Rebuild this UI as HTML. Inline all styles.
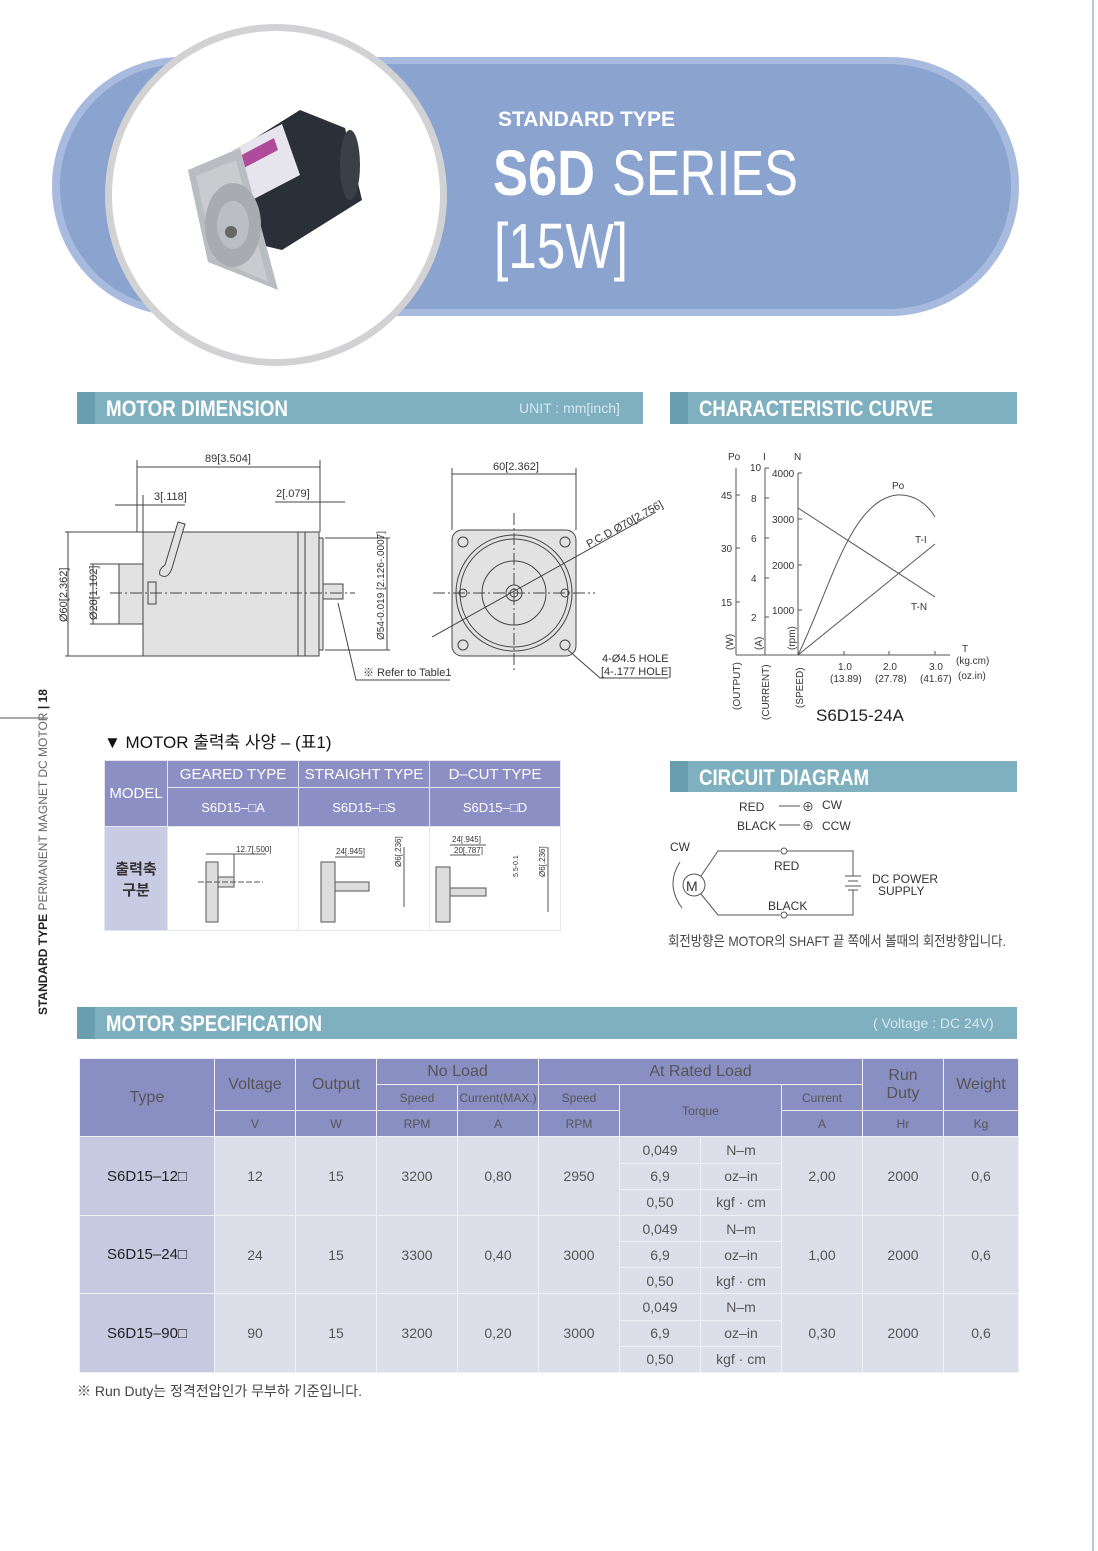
<!DOCTYPE html>
<html><head><meta charset="utf-8"><style>
body{margin:0;background:#fff;}
#p{position:relative;width:1098px;height:1551px;overflow:hidden;font-family:"Liberation Sans","Noto Sans CJK KR",sans-serif;}
svg{position:absolute;left:0;top:0}
table{position:absolute;border-collapse:collapse;font-family:"Liberation Sans","Noto Sans CJK KR",sans-serif;}
#spec td{border:1px solid #eef0f6;text-align:center;color:#555;font-size:14px;padding:0;height:25px}
#spec .h{background:#8a8fc3;color:#fff;}
#spec .hs{font-size:12px}
#spec .b{background:#dcdeea;}
#spec .t{background:#c6c9e0;color:#222;font-size:15px}
#t1 td{border:1px solid #e4e6f0;text-align:center;padding:0}
</style></head><body><div id="p">
<svg width="1098" height="1551" viewBox="0 0 1098 1551" font-family="Liberation Sans, Noto Sans CJK KR, sans-serif">
<line x1="1093" y1="0" x2="1093" y2="1551" stroke="#b8c6dc" stroke-width="2"/>
<rect x="52" y="57" width="967" height="259" rx="129" fill="#a8bbdf"/>
<rect x="60" y="64" width="951" height="245" rx="122" fill="#8aa3cf"/>
<circle cx="276" cy="195" r="171" fill="#d2d2d4"/>
<circle cx="276" cy="195" r="164" fill="#fff"/>
<!-- motor image -->
<g>
<polygon points="220,160 300,110 345,128 362,200 282,250 240,240" fill="#2a2f38"/>
<polygon points="232,150 282,124 300,175 252,200" fill="#e6e4ec"/>
<polygon points="236,158 274,138 278,150 240,170" fill="#b04a9a"/>
<ellipse cx="350" cy="165" rx="10" ry="35" fill="#3a3f48"/>
<polygon points="188,170 240,148 278,290 208,262" fill="#b9bcc0"/>
<polygon points="196,176 236,160 268,282 214,258" fill="#c9cbcf"/>
<ellipse cx="233" cy="225" rx="28" ry="42" fill="#a8abb0"/>
<ellipse cx="233" cy="225" rx="16" ry="24" fill="#bbbec2"/>
<circle cx="231" cy="232" r="6" fill="#666"/>
</g>
<text x="498" y="126" font-size="21" font-weight="bold" fill="#fff">STANDARD TYPE</text>
<text x="493" y="195" font-size="64" font-weight="bold" fill="#fff" textLength="102" lengthAdjust="spacingAndGlyphs">S6D</text>
<text x="612" y="195" font-size="64" fill="#fff" textLength="186" lengthAdjust="spacingAndGlyphs">SERIES</text>
<text x="494" y="268" font-size="64" fill="#fff" textLength="134" lengthAdjust="spacingAndGlyphs">[15W]</text>
<g font-size="22" fill="#fff" font-weight="bold">
<rect x="77" y="392" width="566" height="32" fill="#7fb0bf"/><rect x="77" y="392" width="18" height="32" fill="#6a9eae"/>
<text x="106" y="416" textLength="182" lengthAdjust="spacingAndGlyphs">MOTOR DIMENSION</text>
<text x="519" y="413" font-size="14" font-weight="normal" fill="#d6e8ee">UNIT : mm[inch]</text>
<rect x="670" y="392" width="347" height="32" fill="#7fb0bf"/><rect x="670" y="392" width="18" height="32" fill="#6a9eae"/>
<text x="699" y="416" textLength="234" lengthAdjust="spacingAndGlyphs">CHARACTERISTIC CURVE</text>
<rect x="670" y="761" width="347" height="31" fill="#7fb0bf"/><rect x="670" y="761" width="18" height="31" fill="#6a9eae"/>
<text x="699" y="785" textLength="170" lengthAdjust="spacingAndGlyphs">CIRCUIT DIAGRAM</text>
<rect x="77" y="1007" width="940" height="32" fill="#7fb0bf"/><rect x="77" y="1007" width="18" height="32" fill="#6a9eae"/>
<text x="106" y="1031" textLength="216" lengthAdjust="spacingAndGlyphs">MOTOR SPECIFICATION</text>
<text x="873" y="1028" font-size="14" font-weight="normal" fill="#d6e8ee">( Voltage : DC 24V)</text>
</g>
<line x1="0" y1="718" x2="48" y2="718" stroke="#555"/>
<g transform="translate(47,1015) rotate(-90)" font-size="12"><text x="0" y="0" font-weight="bold" fill="#222">STANDARD TYPE <tspan font-weight="normal" fill="#666">PERMANENT MAGNET DC MOTOR</tspan> <tspan font-weight="bold" fill="#222">| 18</tspan></text></g>
<g stroke="#444" fill="none" stroke-width="1">
<rect x="143" y="532" width="162" height="124" fill="#e2e2e2"/>
<rect x="119" y="564" width="24" height="60" fill="#e2e2e2"/>
<rect x="305" y="532" width="14" height="124" fill="#e2e2e2"/>
<line x1="298" y1="532" x2="298" y2="656"/>
<rect x="319" y="538" width="4" height="112" fill="#e2e2e2"/>
<rect x="323" y="584" width="20" height="15" fill="#e2e2e2"/>
<rect x="148" y="582" width="8" height="22"/>
<path d="M160,575 Q158,570 165,565 L178,522 L185,524 L172,568 Q168,580 160,575Z" fill="#e2e2e2"/>
<line x1="110" y1="593" x2="355" y2="593" stroke-dasharray="12,3,2,3"/>
<line x1="137" y1="460" x2="137" y2="532"/><line x1="320" y1="460" x2="320" y2="532"/>
<line x1="137" y1="467" x2="320" y2="467"/>
<line x1="115" y1="505" x2="185" y2="505"/><line x1="143" y1="495" x2="143" y2="532"/>
<line x1="275" y1="502" x2="345" y2="502"/>
<line x1="65" y1="532" x2="143" y2="532"/><line x1="65" y1="656" x2="143" y2="656"/>
<line x1="68" y1="532" x2="68" y2="656"/>
<line x1="90" y1="564" x2="119" y2="564"/><line x1="90" y1="624" x2="119" y2="624"/>
<line x1="93" y1="564" x2="93" y2="624"/>
<line x1="325" y1="538" x2="390" y2="538"/><line x1="325" y1="650" x2="390" y2="650"/>
<line x1="387" y1="538" x2="387" y2="650"/>
<polyline points="338,603 356,680 450,680"/>
<rect x="452" y="530" width="124" height="126" rx="10" fill="#e2e2e2"/>
<circle cx="514" cy="593" r="58"/><circle cx="514" cy="593" r="54"/>
<circle cx="514" cy="593" r="32"/><circle cx="514" cy="593" r="8"/><circle cx="514" cy="593" r="4"/>
<circle cx="463" cy="542" r="5"/><circle cx="565" cy="542" r="5"/><circle cx="463" cy="645" r="5"/><circle cx="565" cy="645" r="5"/>
<circle cx="463" cy="593" r="4"/><circle cx="565" cy="593" r="4"/>
<line x1="433" y1="593" x2="595" y2="593" stroke-dasharray="12,3,2,3"/>
<line x1="514" y1="513" x2="514" y2="672" stroke-dasharray="12,3,2,3"/>
<line x1="452" y1="468" x2="452" y2="530"/><line x1="576" y1="468" x2="576" y2="530"/>
<line x1="452" y1="474" x2="576" y2="474"/>
<line x1="432" y1="637" x2="656" y2="512"/>
<polyline points="568,650 600,678 668,678"/>
</g>
<g font-size="11" fill="#333">
<text x="205" y="462">89[3.504]</text>
<text x="154" y="500">3[.118]</text>
<text x="276" y="497">2[.079]</text>
<text x="493" y="470">60[2.362]</text>
<text x="363" y="676">※ Refer to Table1</text>
<text x="602" y="662">4-Ø4.5 HOLE</text>
<text x="601" y="675">[4-.177 HOLE]</text>
<text transform="translate(589,548) rotate(-29)">P.C.D Ø70[2.756]</text>
<text transform="translate(67,622) rotate(-90)">Ø60[2.362]</text>
<text transform="translate(97,620) rotate(-90)">Ø28[1.102]</text>
<text transform="translate(384,640) rotate(-90)" font-size="10">Ø54-0.019 [2.126-.0007]</text>
</g>
<g stroke="#555" fill="none" stroke-width="1">
<line x1="736" y1="468" x2="736" y2="655"/><line x1="765" y1="468" x2="765" y2="655"/>
<line x1="798" y1="473" x2="798" y2="655"/><line x1="736" y1="655" x2="950" y2="655"/>
<path d="M765,468h4M765,498h4M765,538h4M765,578h4M765,617h4M798,473h4M798,519h4M798,565h4M798,610h4M844,655v-4M889,655v-4M935,655v-4M736,495h4M736,548h4M736,602h4"/>
<line x1="798" y1="508" x2="935" y2="597"/>
<line x1="798" y1="655" x2="935" y2="544"/>
<path d="M798,655 C830,590 850,500 897,495 C915,494 928,505 935,517"/>
</g>
<g font-size="10" fill="#333">
<text x="728" y="460">Po</text><text x="763" y="460">I</text><text x="794" y="460">N</text>
<text x="750" y="471">10</text><text x="751" y="502">8</text><text x="751" y="542">6</text><text x="751" y="582">4</text><text x="751" y="621">2</text>
<text x="721" y="499">45</text><text x="721" y="552">30</text><text x="721" y="606">15</text>
<text x="772" y="477">4000</text><text x="772" y="523">3000</text><text x="772" y="569">2000</text><text x="772" y="614">1000</text>
<text x="892" y="489">Po</text><text x="915" y="543">T-I</text><text x="911" y="610">T-N</text>
<text x="962" y="652">T</text><text x="956" y="664">(kg.cm)</text><text x="958" y="679">(oz.in)</text>
<text x="838" y="670">1.0</text><text x="883" y="670">2.0</text><text x="929" y="670">3.0</text>
<text x="830" y="682">(13.89)</text><text x="875" y="682">(27.78)</text><text x="920" y="682">(41.67)</text>
<text transform="translate(740,710) rotate(-90)">(OUTPUT)</text>
<text transform="translate(769,720) rotate(-90)">(CURRENT)</text>
<text transform="translate(803,708) rotate(-90)">(SPEED)</text>
<text transform="translate(733,650) rotate(-90)">(W)</text>
<text transform="translate(762,650) rotate(-90)">(A)</text>
<text transform="translate(795,650) rotate(-90)">(rpm)</text>
<text x="816" y="721" font-size="17" fill="#222">S6D15-24A</text>
</g>
<g font-size="12" fill="#333">
<text x="739" y="811">RED</text><text x="737" y="830">BLACK</text>
<text x="802" y="811">⊕</text><text x="802" y="830">⊕</text>
<text x="822" y="809">CW</text><text x="822" y="830">CCW</text>
<text x="670" y="851">CW</text><text x="774" y="870">RED</text><text x="768" y="910">BLACK</text>
<text x="872" y="883">DC POWER</text><text x="878" y="895">SUPPLY</text>
<text x="686" y="891" font-size="14">M</text>
<text x="668" y="946" font-size="14" fill="#444" textLength="338" lengthAdjust="spacingAndGlyphs">회전방향은 MOTOR의 SHAFT 끝 쪽에서 볼때의 회전방향입니다.</text>
<text x="77" y="1396" font-size="14" fill="#444" textLength="285" lengthAdjust="spacingAndGlyphs">※ Run Duty는 정격전압인가 무부하 기준입니다.</text>
<text x="104" y="748" font-size="17" fill="#111">▼ MOTOR 출력축 사양 – (표1)</text>
</g>
<g stroke="#555" fill="none">
<line x1="779" y1="806" x2="800" y2="806"/><line x1="779" y1="825" x2="800" y2="825"/>
<circle cx="694" cy="885" r="11"/>
<polyline points="701,876 718,851 780,851"/><polyline points="701,894 718,915 780,915"/>
<circle cx="784" cy="851" r="3"/><circle cx="784" cy="915" r="3"/>
<polyline points="787,851 853,851 853,876"/><polyline points="787,915 853,915 853,890"/>
<line x1="845" y1="876" x2="861" y2="876"/><line x1="848" y1="881" x2="858" y2="881"/><line x1="845" y1="886" x2="861" y2="886"/><line x1="848" y1="890" x2="858" y2="890"/>
<path d="M680,862 Q665,885 682,908"/>
</g>
</svg>

<table id="t1" style="left:104px;top:760px;width:457px;height:168px;">
<tr style="height:27px;background:#8b8fc4;color:#fff;font-size:15px"><td rowspan="2" style="width:65px">MODEL</td><td style="width:130px">GEARED TYPE</td><td style="width:130px">STRAIGHT TYPE</td><td>D–CUT TYPE</td></tr>
<tr style="height:39px;background:#8b8fc4;color:#fff;font-size:13px"><td>S6D15–□A</td><td>S6D15–□S</td><td>S6D15–□D</td></tr>
<tr style="height:100px"><td style="background:#c8cbe4;font-weight:bold;font-size:15px;color:#333">출력축<br>구분</td>
<td style="background:#fff"><svg width="130" height="98" style="position:static"><g stroke="#555" fill="#ddd"><rect x="38" y="35" width="12" height="60"/><rect x="50" y="50" width="16" height="10"/><line x1="30" y1="55" x2="95" y2="55" stroke-dasharray="6,2" fill="none"/><line x1="38" y1="27" x2="98" y2="27" fill="none"/><line x1="66" y1="27" x2="66" y2="50" fill="none"/></g><text x="68" y="25" font-size="8" fill="#333">12.7[.500]</text></svg></td>
<td style="background:#fff"><svg width="130" height="98" style="position:static"><g stroke="#555" fill="#ddd"><rect x="22" y="35" width="14" height="60"/><rect x="36" y="55" width="34" height="9"/><line x1="36" y1="30" x2="66" y2="30" fill="none"/><line x1="105" y1="20" x2="105" y2="80" fill="none"/></g><text x="37" y="27" font-size="8" fill="#333">24[.945]</text><text transform="translate(102,40) rotate(-90)" font-size="8" fill="#333">Ø6[.236]</text></svg></td>
<td style="background:#fff"><svg width="130" height="98" style="position:static"><g stroke="#555" fill="#ddd"><rect x="6" y="40" width="14" height="55"/><rect x="20" y="61" width="36" height="8"/><line x1="20" y1="18" x2="56" y2="18" fill="none"/><line x1="20" y1="28" x2="50" y2="28" fill="none"/><line x1="118" y1="20" x2="118" y2="85" fill="none"/></g><text x="22" y="15" font-size="8" fill="#333">24[.945]</text><text x="24" y="26" font-size="8" fill="#333">20[.787]</text><text transform="translate(88,50) rotate(-90)" font-size="7" fill="#333">5.5-0.1</text><text transform="translate(115,50) rotate(-90)" font-size="8" fill="#333">Ø6[.236]</text></svg></td></tr>
</table>

<table id="spec" style="left:79px;top:1058px;width:940px;height:315px;">
<tr class="h"><td rowspan="3" style="width:134px;font-size:16px">Type</td><td rowspan="2" style="width:80px;font-size:16px">Voltage</td><td rowspan="2" style="width:80px;font-size:16px">Output</td><td colspan="2" style="font-size:16px">No Load</td><td colspan="4" style="font-size:16px">At Rated Load</td><td rowspan="2" style="width:80px;font-size:16px">Run<br>Duty</td><td rowspan="2" style="font-size:16px">Weight</td></tr>
<tr class="h hs"><td class="hs" style="width:80px">Speed</td><td class="hs" style="width:80px">Current(MAX.)</td><td class="hs" style="width:80px">Speed</td><td class="hs" colspan="2" rowspan="2">Torque</td><td class="hs" style="width:80px">Current</td></tr>
<tr class="h"><td class="hs">V</td><td class="hs">W</td><td class="hs">RPM</td><td class="hs">A</td><td class="hs">RPM</td><td class="hs">A</td><td class="hs">Hr</td><td class="hs">Kg</td></tr>
<tr class="b"><td rowspan="3" class="t">S6D15–12□</td><td rowspan="3">12</td><td rowspan="3">15</td><td rowspan="3">3200</td><td rowspan="3">0,80</td><td rowspan="3">2950</td><td style="width:80px">0,049</td><td style="width:80px">N–m</td><td rowspan="3">2,00</td><td rowspan="3">2000</td><td rowspan="3">0,6</td></tr>
<tr class="b"><td>6,9</td><td>oz–in</td></tr><tr class="b"><td>0,50</td><td>kgf · cm</td></tr>
<tr class="b"><td rowspan="3" class="t">S6D15–24□</td><td rowspan="3">24</td><td rowspan="3">15</td><td rowspan="3">3300</td><td rowspan="3">0,40</td><td rowspan="3">3000</td><td>0,049</td><td>N–m</td><td rowspan="3">1,00</td><td rowspan="3">2000</td><td rowspan="3">0,6</td></tr>
<tr class="b"><td>6,9</td><td>oz–in</td></tr><tr class="b"><td>0,50</td><td>kgf · cm</td></tr>
<tr class="b"><td rowspan="3" class="t">S6D15–90□</td><td rowspan="3">90</td><td rowspan="3">15</td><td rowspan="3">3200</td><td rowspan="3">0,20</td><td rowspan="3">3000</td><td>0,049</td><td>N–m</td><td rowspan="3">0,30</td><td rowspan="3">2000</td><td rowspan="3">0,6</td></tr>
<tr class="b"><td>6,9</td><td>oz–in</td></tr><tr class="b"><td>0,50</td><td>kgf · cm</td></tr>
</table>
</div></body></html>
